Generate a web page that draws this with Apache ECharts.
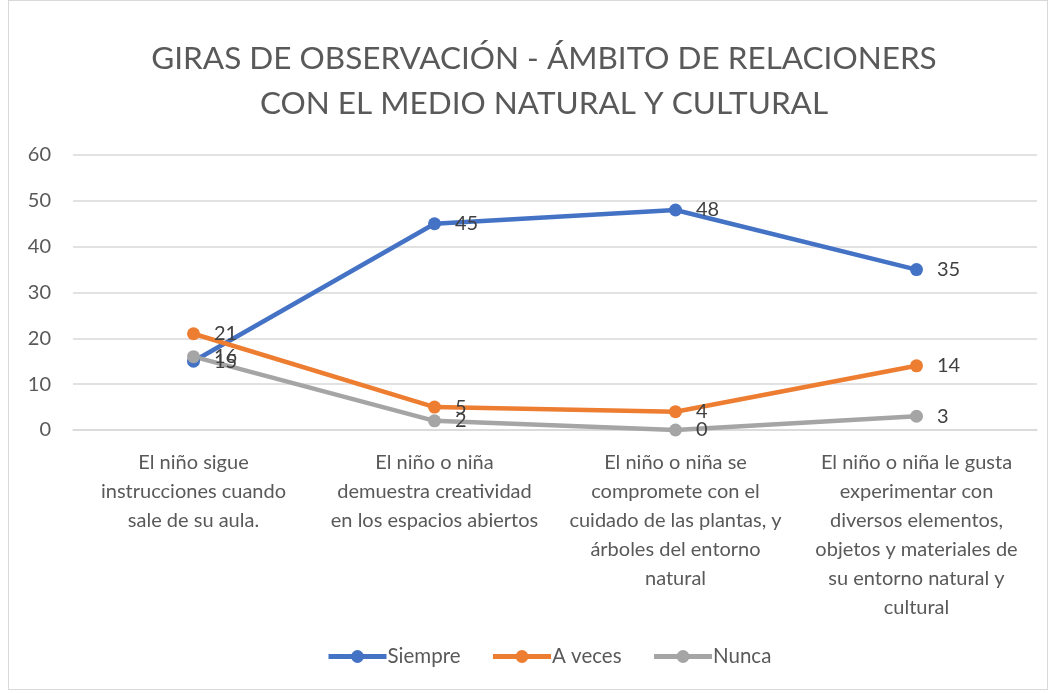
<!DOCTYPE html>
<html lang="es">

<head>
	<meta charset="UTF-8">
	<title>Giras de observación</title>
	<script src="https://cdn.jsdelivr.net/npm/echarts@6/dist/echarts.min.js"></script>
	<style>
		body { margin: 0; background: #fff; }
		#chart { position: absolute; left: 8px; top: 0; width: 1040px; height: 690px; border: 1px solid #d9d9d9; box-sizing: border-box; }
	</style>
</head>

<body>
	<div id="chart"></div>
</body>

<script>
	const categories = [
		'El niño sigue\ninstrucciones cuando\nsale de su aula.',
		'El niño o niña\ndemuestra creatividad\nen los espacios abiertos',
		'El niño o niña se\ncompromete con el\ncuidado de las plantas, y\nárboles del entorno\nnatural',
		'El niño o niña le gusta\nexperimentar con\ndiversos elementos,\nobjetos y materiales de\nsu entorno natural y\ncultural'
	]
	const siempre = [15, 45, 48, 35]
	const aVeces = [21, 5, 4, 14]
	const nunca = [16, 2, 0, 3]

	const font = 'Lato, "Liberation Sans", sans-serif'
	let mcharts = echarts.init(document.getElementById('chart'))

	function serie(name, data, color) {
		return {
			name: name,
			type: 'line',
			data: data,
			symbol: 'circle',
			symbolSize: 13,
			lineStyle: { width: 4.5, color: color },
			itemStyle: { color: color },
			label: { show: true, position: 'right', distance: 14, fontSize: 20, color: '#404040', fontFamily: font }
		}
	}

	let option = {
		animation: false,
		title: {
			text: 'GIRAS DE OBSERVACIÓN - ÁMBITO DE RELACIONERS\nCON EL MEDIO NATURAL Y CULTURAL',
			left: 530,
			top: 30,
			textAlign: 'center',
			textStyle: { fontSize: 31.5, fontWeight: 'normal', color: '#595959', fontFamily: font, lineHeight: 45 }
		},
		legend: {
			bottom: 17,
			left: 312,
			itemWidth: 58,
			itemHeight: 16,
			itemGap: 30,
			lineStyle: { width: 5 },
			textStyle: { fontSize: 20.5, color: '#595959', fontFamily: font, padding: [0, 0, 0, -4] },
			data: ['Siempre', 'A veces', 'Nunca']
		},
		grid: { left: 64, right: 10, top: 154, bottom: 259 },
		xAxis: {
			type: 'category',
			data: categories,
			axisTick: { show: false },
			axisLine: { lineStyle: { color: '#d9d9d9', width: 1.5 } },
			axisLabel: { interval: 0, fontSize: 20, lineHeight: 29, color: '#595959', fontFamily: font, margin: 18 }
		},
		yAxis: {
			type: 'value',
			min: 0,
			max: 60,
			interval: 10,
			axisLabel: { fontSize: 20, color: '#595959', fontFamily: font, margin: 22 },
			splitLine: { lineStyle: { color: '#d9d9d9', width: 1.5 } }
		},
		series: [
			serie('Siempre', siempre, '#4472c4'),
			serie('A veces', aVeces, '#ed7d31'),
			serie('Nunca', nunca, '#a5a5a5')
		]
	}

	mcharts.setOption(option)
</script>

</html>
